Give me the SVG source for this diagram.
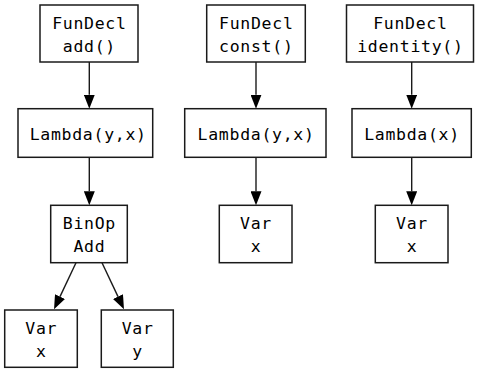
<svg xmlns="http://www.w3.org/2000/svg" width="483" height="373" viewBox="0 0 483 373">
  <style>
    .node rect { fill: #ffffff; stroke: #1a1a1a; stroke-width: 1.5; }
    .node text { font-family: "DejaVu Sans Mono", monospace; font-size: 16.5px; letter-spacing: 0.7px; text-anchor: middle; fill: #000000; }
    .edges line { stroke: #1a1a1a; stroke-width: 1.4; }
  </style>
  <defs>
    <marker id="arrow" viewBox="0 0 14 11" refX="0" refY="5.5" markerWidth="14" markerHeight="11" markerUnits="userSpaceOnUse" orient="auto">
      <path d="M0,0 L14,5.5 L0,11 z" fill="#000000"/>
    </marker>
  </defs>
  <rect width="483" height="373" fill="#ffffff"/>

  <!-- tree edges, each ending in a filled arrowhead at the child box -->
  <g class="edges">
    <line x1="89.3" y1="62" x2="89.3" y2="94.7" marker-end="url(#arrow)"/>
    <line x1="89.3" y1="157.3" x2="89.3" y2="191.3" marker-end="url(#arrow)"/>
    <line x1="76" y1="262.7" x2="60" y2="296.6" marker-end="url(#arrow)"/>
    <line x1="102" y1="262.7" x2="118" y2="296.6" marker-end="url(#arrow)"/>
    <line x1="256" y1="62" x2="256" y2="94.7" marker-end="url(#arrow)"/>
    <line x1="256" y1="157.3" x2="256" y2="191.3" marker-end="url(#arrow)"/>
    <line x1="411.7" y1="62" x2="411.7" y2="94.7" marker-end="url(#arrow)"/>
    <line x1="411.7" y1="157.3" x2="411.7" y2="191.3" marker-end="url(#arrow)"/>
  </g>

  <!-- add() -->
  <g id="fundecl-add" class="node">
    <rect x="40" y="5" width="98" height="57"/>
    <text x="89.4" y="28.5">FunDecl</text>
    <text x="89.4" y="51.5">add()</text>
  </g>
  <g id="lambda-add" class="node">
    <rect x="18" y="108.7" width="134.7" height="48.6"/>
    <text x="88.2" y="140">Lambda(y,x)</text>
  </g>
  <g id="binop-add" class="node">
    <rect x="50.7" y="205.3" width="76.6" height="57.4"/>
    <text x="89.4" y="228.5">BinOp</text>
    <text x="89.4" y="251.8">Add</text>
  </g>
  <g id="var-x-add" class="node">
    <rect x="4.7" y="310" width="72.6" height="57.3"/>
    <text x="41.3" y="333.8">Var</text>
    <text x="41.3" y="356.5">x</text>
  </g>
  <g id="var-y-add" class="node">
    <rect x="101.3" y="310" width="72" height="57.3"/>
    <text x="137.6" y="333.8">Var</text>
    <text x="137.6" y="356.5">y</text>
  </g>

  <!-- const() -->
  <g id="fundecl-const" class="node">
    <rect x="206.7" y="5" width="98.6" height="57"/>
    <text x="256.3" y="28.5">FunDecl</text>
    <text x="256.3" y="51.5">const()</text>
  </g>
  <g id="lambda-const" class="node">
    <rect x="184.7" y="108.7" width="141.3" height="48.6"/>
    <text x="256.1" y="140">Lambda(y,x)</text>
  </g>
  <g id="var-x-const" class="node">
    <rect x="219.3" y="205.3" width="72.7" height="57.4"/>
    <text x="256" y="228.5">Var</text>
    <text x="256" y="251.8">x</text>
  </g>

  <!-- identity() -->
  <g id="fundecl-identity" class="node">
    <rect x="346.5" y="5" width="127" height="57"/>
    <text x="410.4" y="28.5">FunDecl</text>
    <text x="410.4" y="51.5">identity()</text>
  </g>
  <g id="lambda-identity" class="node">
    <rect x="352" y="108.7" width="119.3" height="48.6"/>
    <text x="412" y="140">Lambda(x)</text>
  </g>
  <g id="var-x-identity" class="node">
    <rect x="375.3" y="205.3" width="72.7" height="57.4"/>
    <text x="412" y="228.5">Var</text>
    <text x="412" y="251.8">x</text>
  </g>
</svg>
